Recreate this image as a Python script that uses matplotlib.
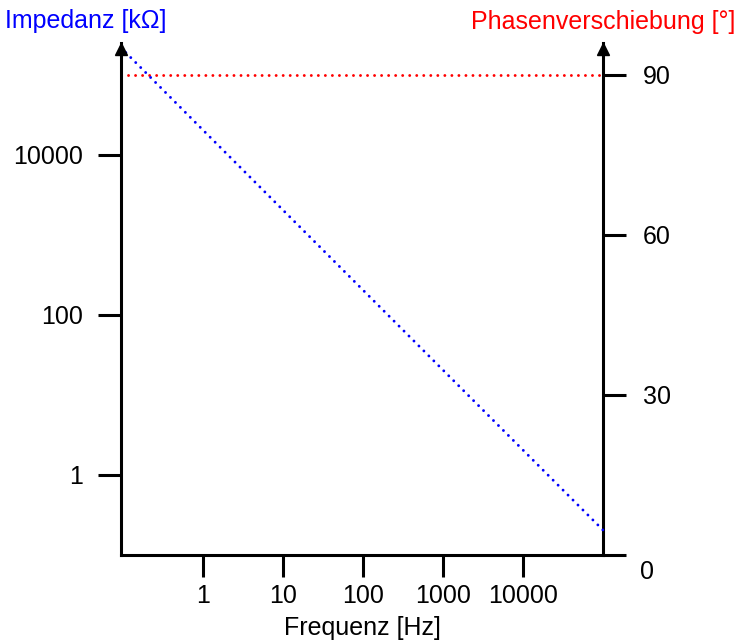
import matplotlib.pyplot as plt
from matplotlib.ticker import FixedLocator, NullLocator
from matplotlib.transforms import ScaledTranslation

plt.rcParams['font.family'] = ['Liberation Sans', 'DejaVu Sans']
plt.rcParams['font.size'] = 18

# impedance of the capacitor vs frequency
freq = [0.094, 1, 10, 100, 1000, 10000, 100000]
impedance = [2.2e5, 2.05e4, 2050, 205, 20.5, 2.05, 0.205]

# phase shift (constant)
phase_freq = [0.094, 100000]
phase = [90, 90]

x_ticks = [1, 10, 100, 1000, 10000]
x_labels = ['1', '10', '100', '1000', '10000']
z_ticks = [1, 100, 10000]
z_labels = ['1', '100', '10000']
p_ticks = [0, 30, 60, 90]
p_labels = ['', '30', '60', '90']
p_zero_label = '0'

W, H = 739, 644
fig = plt.figure(figsize=(W / 100, H / 100), dpi=100)
ax = fig.add_axes([121 / W, (H - 555) / H, (603 - 121) / W, (555 - 43) / H])
ax2 = ax.twinx()

lw = 2.2
dot = dict(lw=2.1, dashes=(0.01, 2.4), dash_capstyle='round', clip_on=False)
ax.plot(freq, impedance, color='#0000ff', **dot)
ax2.plot(phase_freq, phase, color='#ff0000', **dot)
ax2.set_zorder(ax.get_zorder() - 1)
ax.patch.set_visible(False)

# left axis: impedance, log
ax.set_xscale('log')
ax.set_yscale('log')
ax.set_xlim(10 ** -1.025, 1e5)
ax.set_ylim(0.1, 10 ** 5.4)
ax.xaxis.set_major_locator(FixedLocator(x_ticks))
ax.set_xticklabels(x_labels)
ax.xaxis.set_minor_locator(NullLocator())
ax.yaxis.set_major_locator(FixedLocator(z_ticks))
ax.set_yticklabels(z_labels)
ax.yaxis.set_minor_locator(NullLocator())

# right axis: phase, linear
ax2.set_ylim(0, 96)
ax2.yaxis.set_major_locator(FixedLocator(p_ticks))
ax2.set_yticklabels(p_labels)
# the zero label sits a bit below the baseline
ax2.text(1, 0, p_zero_label, ha='left', va='center',
         transform=ax2.transAxes + ScaledTranslation(0.37, -0.17, fig.dpi_scale_trans))

for a in (ax, ax2):
    for s in a.spines.values():
        s.set_linewidth(lw)
    a.spines['top'].set_visible(False)
ax2.spines['left'].set_visible(False)
ax2.spines['bottom'].set_visible(False)
ax.spines['right'].set_visible(False)

ax.tick_params(axis='x', direction='out', length=16, width=lw, pad=5)
ax.tick_params(axis='y', direction='out', length=16.5, width=lw, pad=11)
ax2.tick_params(axis='y', direction='out', length=16.5, width=lw, pad=12)

# arrow heads on the vertical axes
for xa in (0, 1):
    ax.plot(xa, 1 - 5.5 / 512, marker='^', color='black', markersize=8,
            transform=ax.transAxes, clip_on=False)

ax.set_xlabel('Frequenz [Hz]', labelpad=6)
fig.text(5 / W, 1 - 21 / H, 'Impedanz [k\u03a9]', color='#0000ff',
         ha='left', va='center')
fig.text(735 / W, 1 - 22 / H, 'Phasenverschiebung [\u00b0]', color='#ff0000',
         ha='right', va='center')

fig.savefig('out.png', dpi=100)
